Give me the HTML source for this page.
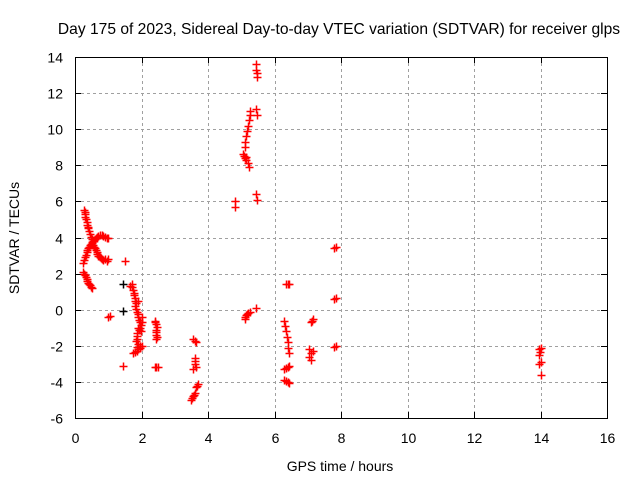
<!DOCTYPE html>
<html><head><meta charset="utf-8"><style>
body{margin:0;background:#fff}
svg text{font-family:"Liberation Sans",sans-serif;font-size:14px;fill:#000}
</style></head><body>
<svg id="chart" width="640" height="480" xmlns="http://www.w3.org/2000/svg">
<rect width="640" height="480" fill="#fff"/>
<text x="339" y="34" text-anchor="middle" style="font-size:15.6px">Day 175 of 2023, Sidereal Day-to-day VTEC variation (SDTVAR) for receiver glps</text>
<text x="340" y="471" text-anchor="middle">GPS time / hours</text>
<text transform="translate(19,238) rotate(-90)" text-anchor="middle">SDTVAR / TECUs</text>
<g id="grid"></g>
<g id="ticks"></g>
<g id="marks"></g>
<rect x="75.5" y="57.5" width="532" height="361" fill="none" stroke="#000" stroke-width="1"/>
</svg>
<script>
const xTicks=[0,2,4,6,8,10,12,14,16];
const yTicks=[-6,-4,-2,0,2,4,6,8,10,12,14];
const redHours=[0.28,0.3,0.33,0.36,0.4,0.45,0.5,0.55,0.6,0.65,0.7,0.75,0.8,0.9,0.95,
0.29,0.31,0.35,0.38,0.42,0.47,0.52,0.57,0.62,0.67,0.72,0.78,0.85,1.0,
0.25,0.3,0.35,0.4,0.45,0.5,0.55,0.6,0.65,0.7,0.8,0.9,1.0,
0.27,0.32,0.37,0.42,0.47,0.52,0.57,0.62,0.67,0.75,0.85,0.95,
0.25,0.3,0.35,0.4,0.45,0.5,0.27,0.32,0.37,0.42,0.47,
1.5,1.45,1.0,1.05,
1.65,1.7,1.75,1.78,1.8,1.8,1.85,1.9,1.95,1.9,1.85,1.85,1.9,2.0,1.95,1.85,1.75,1.9,2.0,1.98,
1.72,1.76,1.79,1.82,1.83,1.88,1.93,1.97,1.92,1.87,1.84,1.87,1.95,1.9,1.8,2.0,1.95,
2.4,2.45,2.45,2.45,2.45,2.45,2.5,2.42,2.47,2.43,2.48,2.42,
3.55,3.6,3.65,3.6,3.6,3.65,3.55,3.5,3.55,3.6,3.65,3.7,3.62,3.58,3.52,3.68,
4.8,4.8,
5.05,5.1,5.12,5.15,5.18,5.2,5.22,5.25,5.27,5.1,5.15,5.2,5.22,5.08,5.13,
5.45,5.45,5.47,5.47,5.45,5.48,5.45,5.48,5.45,
5.1,5.15,5.2,5.25,5.12,5.18,
6.35,6.45,6.4,6.3,6.32,6.35,6.37,6.4,6.42,6.45,6.3,6.4,6.45,6.35,6.3,6.4,6.45,6.35,
7.1,7.15,7.05,7.1,7.05,7.1,7.15,7.12,
7.8,7.85,7.8,7.85,7.8,7.85,
13.95,14.0,13.95,14.0,13.95,14.0,13.97];
const redValues=[5.5,5.3,5.0,4.7,4.5,4.2,3.9,3.6,3.4,3.2,3.0,2.9,2.8,2.8,2.7,
5.4,5.15,4.85,4.6,4.35,4.05,3.75,3.5,3.3,3.1,2.95,2.85,2.75,2.8,
2.6,2.9,3.2,3.4,3.6,3.7,3.8,3.9,4.0,4.1,4.15,4.05,3.95,
2.75,3.05,3.3,3.5,3.65,3.75,3.85,3.95,4.05,4.12,4.1,4.0,
2.1,1.9,1.7,1.5,1.35,1.2,2.0,1.8,1.6,1.42,1.28,
2.7,-3.1,-0.4,-0.35,
1.3,1.4,1.1,0.8,0.5,0.2,-0.1,-0.4,-0.7,-1.0,-1.3,-1.6,-1.9,-2.0,-2.1,-2.3,-2.4,0.5,-0.4,-1.2,
1.25,0.95,0.65,0.35,0.05,-0.25,-0.55,-0.85,-1.15,-1.45,-1.75,-2.05,-2.0,-2.2,-2.35,-0.7,-1.0,
-0.6,-0.8,-1.1,-1.4,-1.6,-3.2,-3.2,-0.7,-0.95,-1.25,-1.5,-3.15,
-1.6,-1.75,-1.8,-2.7,-3.0,-3.2,-3.3,-5.0,-4.8,-4.6,-4.3,-4.1,-2.85,-4.7,-4.9,-4.2,
6.0,5.7,
8.6,9.0,9.3,9.6,9.9,10.2,10.5,10.8,11.0,8.4,8.3,8.1,7.9,8.5,8.45,
13.6,13.3,13.1,12.9,11.1,10.8,6.4,6.1,0.1,
-0.5,-0.3,-0.2,-0.1,-0.4,-0.25,
1.45,1.4,1.42,-0.6,-0.9,-1.2,-1.5,-1.8,-2.1,-2.4,-3.3,-3.2,-3.1,-3.25,-3.9,-4.0,-4.05,-3.95,
-0.7,-0.5,-2.2,-2.4,-2.6,-2.8,-2.3,-0.6,
3.4,3.45,0.6,0.65,-2.05,-2.0,
-2.2,-2.1,-2.5,-2.9,-3.0,-3.6,-2.35];
const blackHours=[1.45,1.45];
const blackValues=[1.45,-0.05];
const X0=75,X1=607,Y0=418,Y1=57;
const xs=h=>X0+(h-0)/(16-0)*(X1-X0);
const ys=v=>Y0-(v+6)/(20)*(Y0-Y1);
const NS="http://www.w3.org/2000/svg";
const grid=document.getElementById('grid'),ticks=document.getElementById('ticks'),marks=document.getElementById('marks');
function mk(t,a,p){const e=document.createElementNS(NS,t);for(const k in a)e.setAttribute(k,a[k]);p.appendChild(e);return e;}
xTicks.forEach(t=>{const x=Math.round(xs(t))+0.5;
 if(t>0&&t<16){const g=mk('line',{x1:x,x2:x,y1:Y1,y2:Y0,stroke:'#a0a0a0','stroke-dasharray':'3,3'},grid);
 
 }
 mk('line',{x1:x,x2:x,y1:Y0,y2:Y0-6,stroke:'#000'},ticks);mk('line',{x1:x,x2:x,y1:Y1,y2:Y1+6,stroke:'#000'},ticks);
 const l=mk('text',{x:x,y:443,'text-anchor':'middle'},ticks);l.textContent=t;
 
 });
yTicks.forEach(t=>{const y=Math.round(ys(t))+0.5;
 if(t>-6&&t<14){const g=mk('line',{x1:X0,x2:X1,y1:y,y2:y,stroke:'#a0a0a0','stroke-dasharray':'3,3'},grid);
 
 }
 mk('line',{x1:X0,x2:X0+6,y1:y,y2:y,stroke:'#000'},ticks);mk('line',{x1:X1,x2:X1-6,y1:y,y2:y,stroke:'#000'},ticks);
 const l=mk('text',{x:63,y:y+5,'text-anchor':'end'},ticks);l.textContent=t;
 
 });
function plus(h,v,c){const x=Math.round(xs(h))+0.5,y=Math.round(ys(v))+0.5;
 const p=mk('path',{d:`M${x-4},${y}H${x+4}M${x},${y-4}V${y+4}`,stroke:c,'stroke-width':1.5,fill:'none'},marks);
 
 }
blackHours.forEach((h,i)=>plus(h,blackValues[i],'#000'));
redHours.forEach((h,i)=>plus(h,redValues[i],'#f00'));
</script>
</body></html>
